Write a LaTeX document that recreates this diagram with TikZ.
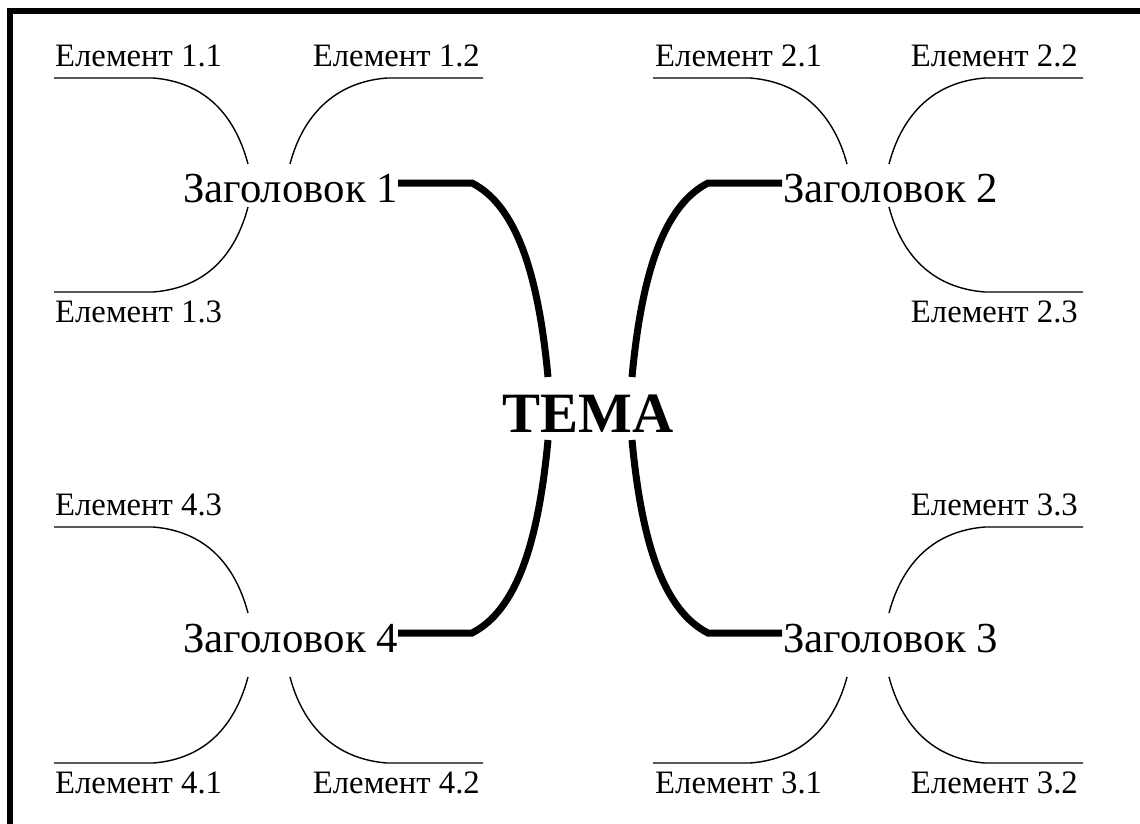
\documentclass[tikz,border=0pt]{standalone}
\usepackage{fontspec}
\setmainfont{Liberation Serif}
\begin{document}
\begin{tikzpicture}[x=1pt,y=-1pt,
  frame/.style={line width=6pt,line join=miter},
  mainline/.style={line width=7pt},
  twig/.style={line width=1.4pt},
  itemtext/.style={inner sep=0pt,font=\fontsize{32.7}{35}\selectfont},
  headtext/.style={inner sep=0pt,font=\fontsize{42.8}{46}\selectfont},
  themetext/.style={inner sep=0pt,font=\fontsize{57}{60}\selectfont\bfseries}]
\useasboundingbox (0,0) rectangle (1140,823);

% frame (top and left edges)
\draw[frame] (10,840) -- (10,10.5) -- (1160,10.5);

% theme and headings
\node[themetext,anchor=base] (tema) at (588,432) {ТЕМА};
\node[headtext,anchor=base west] (h1) at (183,202) {Заголовок 1};
\node[headtext,anchor=base west] (h2) at (783,202) {Заголовок 2};
\node[headtext,anchor=base west] (h3) at (783,652) {Заголовок 3};
\node[headtext,anchor=base west] (h4) at (183,652) {Заголовок 4};

% elements
\node[itemtext,anchor=base west] (e11) at (55,66) {Елемент 1.1};
\node[itemtext,anchor=base east] (e12) at (480,66) {Елемент 1.2};
\node[itemtext,anchor=base west] (e13) at (55,322) {Елемент 1.3};
\node[itemtext,anchor=base west] (e21) at (655,66) {Елемент 2.1};
\node[itemtext,anchor=base east] (e22) at (1078,66) {Елемент 2.2};
\node[itemtext,anchor=base east] (e23) at (1078,322) {Елемент 2.3};
\node[itemtext,anchor=base east] (e33) at (1078,515) {Елемент 3.3};
\node[itemtext,anchor=base west] (e31) at (655,793) {Елемент 3.1};
\node[itemtext,anchor=base east] (e32) at (1078,793) {Елемент 3.2};
\node[itemtext,anchor=base west] (e43) at (55,515) {Елемент 4.3};
\node[itemtext,anchor=base west] (e41) at (55,793) {Елемент 4.1};
\node[itemtext,anchor=base east] (e42) at (480,793) {Елемент 4.2};

% junction points of the main branches
\coordinate (t1) at (548,377);
\coordinate (t2) at (632,377);
\coordinate (t3) at (632,440);
\coordinate (t4) at (548,440);
\coordinate (h1e) at (398,183);  \coordinate (h1k) at (472,183);
\coordinate (h2e) at (782,183);  \coordinate (h2k) at (708,183);
\coordinate (h3e) at (782,633);  \coordinate (h3k) at (708,633);
\coordinate (h4e) at (398,633);  \coordinate (h4k) at (472,633);

% main branches
\draw[mainline] (h1e) -- (h1k) .. controls +(43,22) and +(-10,-107) .. (t1);
\draw[mainline] (h2e) -- (h2k) .. controls +(-43,22) and +(10,-107) .. (t2);
\draw[mainline] (h3e) -- (h3k) .. controls +(-43,-22) and +(10,107) .. (t3);
\draw[mainline] (h4e) -- (h4k) .. controls +(43,-22) and +(-10,107) .. (t4);

% element branches: underline start, bend, end near the heading
\coordinate (a11) at (54,78);    \coordinate (b11) at (153,78);   \coordinate (c11) at (248,164);
\coordinate (a12) at (483,78);   \coordinate (b12) at (387,78);   \coordinate (c12) at (290,164);
\coordinate (a13) at (54,292);   \coordinate (b13) at (153,292);  \coordinate (c13) at (248,207);
\coordinate (a21) at (653,78);   \coordinate (b21) at (750,78);   \coordinate (c21) at (847,164);
\coordinate (a22) at (1083,78);  \coordinate (b22) at (985,78);   \coordinate (c22) at (889,164);
\coordinate (a23) at (1083,292); \coordinate (b23) at (985,292);  \coordinate (c23) at (889,207);
\coordinate (a33) at (1083,527); \coordinate (b33) at (985,527);  \coordinate (c33) at (889,613);
\coordinate (a31) at (653,763);  \coordinate (b31) at (750,763);  \coordinate (c31) at (847,677);
\coordinate (a32) at (1083,763); \coordinate (b32) at (985,763);  \coordinate (c32) at (889,677);
\coordinate (a43) at (54,527);   \coordinate (b43) at (153,527);  \coordinate (c43) at (248,613);
\coordinate (a41) at (54,763);   \coordinate (b41) at (153,763);  \coordinate (c41) at (248,677);
\coordinate (a42) at (483,763);  \coordinate (b42) at (387,763);  \coordinate (c42) at (290,677);

% downward bends (heading below the underline)
\draw[twig] (a11) -- (b11) .. controls +(52,4) and +(-13,-49) .. (c11);
\draw[twig] (a12) -- (b12) .. controls +(-52,4) and +(13,-49) .. (c12);
\draw[twig] (a21) -- (b21) .. controls +(52,4) and +(-13,-49) .. (c21);
\draw[twig] (a22) -- (b22) .. controls +(-52,4) and +(13,-49) .. (c22);
\draw[twig] (a43) -- (b43) .. controls +(52,4) and +(-13,-49) .. (c43);
\draw[twig] (a33) -- (b33) .. controls +(-52,4) and +(13,-49) .. (c33);
% upward bends (heading above the underline)
\draw[twig] (a13) -- (b13) .. controls +(52,-4) and +(-13,49) .. (c13);
\draw[twig] (a23) -- (b23) .. controls +(-52,-4) and +(13,49) .. (c23);
\draw[twig] (a31) -- (b31) .. controls +(52,-4) and +(-13,49) .. (c31);
\draw[twig] (a32) -- (b32) .. controls +(-52,-4) and +(13,49) .. (c32);
\draw[twig] (a41) -- (b41) .. controls +(52,-4) and +(-13,49) .. (c41);
\draw[twig] (a42) -- (b42) .. controls +(-52,-4) and +(13,49) .. (c42);
\end{tikzpicture}
\end{document}
